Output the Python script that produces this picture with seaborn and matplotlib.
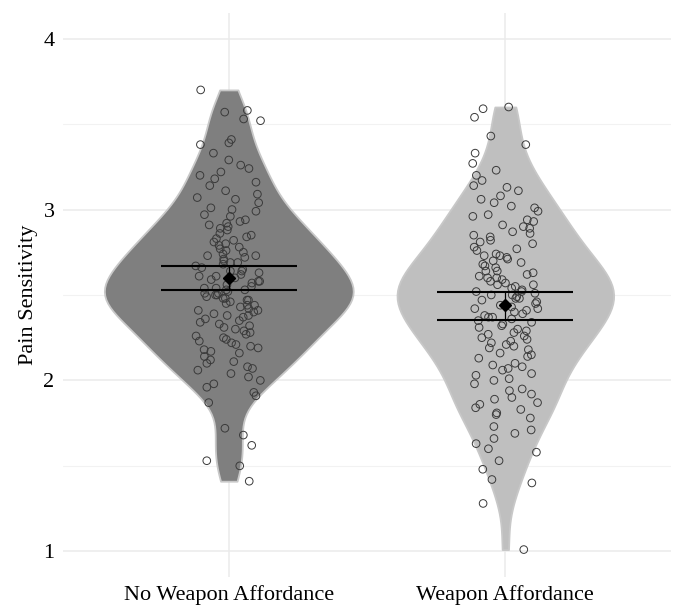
import matplotlib.pyplot as plt
import numpy as np
import pandas as pd
import seaborn as sns

groups = ["No Weapon Affordance", "Weapon Affordance"]

# pain sensitivity scores
no_weapon = [
    3.70, 3.58, 3.57, 3.53, 3.52, 3.41, 3.39, 3.38, 3.33, 3.29, 3.26,
    3.24, 3.22, 3.20, 3.18, 3.16, 3.14, 3.11, 3.09, 3.07, 3.06,
    3.04, 3.01, 3.00, 2.99, 2.97, 2.96,
    2.94, 2.93, 2.92, 2.91, 2.90, 2.89, 2.88, 2.86,
    2.85, 2.84, 2.83, 2.82, 2.81, 2.80, 2.79, 2.78, 2.77, 2.76, 2.75,
    2.74, 2.73, 2.73, 2.72, 2.71, 2.70, 2.69, 2.69, 2.68, 2.67, 2.66, 2.65,
    2.64, 2.64, 2.63, 2.62, 2.61, 2.61, 2.60, 2.59, 2.58, 2.58, 2.57, 2.56, 2.55,
    2.54, 2.54, 2.53, 2.53, 2.52, 2.51, 2.51, 2.50, 2.50, 2.49, 2.48, 2.48,
    2.47, 2.47, 2.46, 2.45,
    2.44, 2.44, 2.43, 2.42, 2.41, 2.41, 2.40, 2.39, 2.38, 2.38, 2.37, 2.36, 2.35,
    2.34, 2.33, 2.32, 2.31, 2.30, 2.29, 2.28, 2.27, 2.26, 2.25,
    2.24, 2.23, 2.22, 2.21, 2.20, 2.19, 2.18, 2.17, 2.16,
    2.14, 2.12, 2.11, 2.10, 2.08, 2.07, 2.06,
    2.04, 2.02, 2.00, 1.98, 1.96,
    1.93, 1.91, 1.87,
    1.72, 1.68, 1.62, 1.53, 1.50, 1.41,
]
weapon = [
    3.60, 3.59, 3.54, 3.43, 3.38, 3.33, 3.27, 3.23, 3.20, 3.17,
    3.14, 3.13, 3.11, 3.08, 3.06,
    3.04, 3.02, 3.01, 2.99, 2.97, 2.96,
    2.94, 2.93, 2.91, 2.90, 2.89, 2.87, 2.86,
    2.85, 2.84, 2.82, 2.81, 2.80, 2.78, 2.77, 2.76,
    2.74, 2.73, 2.73, 2.72, 2.71, 2.70, 2.69, 2.68, 2.67, 2.66,
    2.64, 2.64, 2.63, 2.62, 2.61, 2.60, 2.60, 2.59, 2.58,
    2.57, 2.56, 2.56, 2.55,
    2.54, 2.53, 2.52, 2.52, 2.51, 2.50, 2.50, 2.49, 2.48, 2.48,
    2.47, 2.46, 2.45,
    2.44, 2.43, 2.42, 2.42, 2.41, 2.40, 2.39, 2.38, 2.37, 2.37, 2.36, 2.35,
    2.34, 2.33, 2.32, 2.31, 2.30, 2.29, 2.28, 2.27, 2.26, 2.25,
    2.24, 2.23, 2.22, 2.21, 2.20, 2.19, 2.18, 2.16, 2.15,
    2.14, 2.13, 2.10, 2.09, 2.08, 2.07, 2.06,
    2.04, 2.03, 2.01, 2.00, 1.98, 1.95,
    1.94, 1.92, 1.90, 1.89, 1.87, 1.86,
    1.84, 1.83, 1.81, 1.80, 1.78,
    1.73, 1.71, 1.69, 1.66, 1.63, 1.60, 1.58,
    1.53, 1.48, 1.42, 1.40, 1.28, 1.01,
]

# mean and 95% CI per condition
means = [2.60, 2.44]
ci_low = [2.532, 2.355]
ci_high = [2.668, 2.518]

df = pd.DataFrame({
    "condition": [groups[0]] * len(no_weapon) + [groups[1]] * len(weapon),
    "pain": no_weapon + weapon,
})

sns.set_theme(style="white")
plt.rcParams["font.family"] = ["Liberation Serif", "DejaVu Serif"]

fig, ax = plt.subplots(figsize=(6.76, 6.06), dpi=100)
fig.subplots_adjust(left=0.093, right=0.993, top=0.9785, bottom=0.048)

sns.violinplot(data=df, x="condition", y="pain", hue="condition",
               palette=["#7f7f7f", "#bfbfbf"], saturation=1, cut=0,
               inner=None, width=0.9, density_norm="area", common_norm=True,
               bw_adjust=0.72, linecolor="#c8c8c8", linewidth=1.3,
               legend=False, ax=ax)

np.random.seed(7)
sns.stripplot(data=df, x="condition", y="pain", jitter=0.12, size=5.5,
              facecolor="none", edgecolor="#3a3a3a", linewidth=0.7, ax=ax)

yerr = [np.array(means) - np.array(ci_low), np.array(ci_high) - np.array(means)]
ax.errorbar(groups, means, yerr=yerr, fmt="D", color="black", ms=6.5,
            elinewidth=0.9, capsize=49, capthick=1.5, zorder=5)

ax.set_xlim(-0.6, 1.6)
ax.set_ylim(0.85, 4.15)
ax.set_yticks([1, 2, 3, 4])
ax.set_yticks([1.5, 2.5, 3.5], minor=True)
ax.grid(which="major", color="#ebebeb", linewidth=1.1)
ax.grid(which="minor", axis="y", color="#f2f2f2", linewidth=0.8)
ax.set_axisbelow(True)
sns.despine(left=True, bottom=True)
ax.tick_params(length=0, labelsize=16, colors="black", pad=6)
ax.set_xlabel("")
ax.set_ylabel("Pain Sensitivity", fontsize=16, color="black", labelpad=4)

plt.savefig("out.png", dpi=100)
